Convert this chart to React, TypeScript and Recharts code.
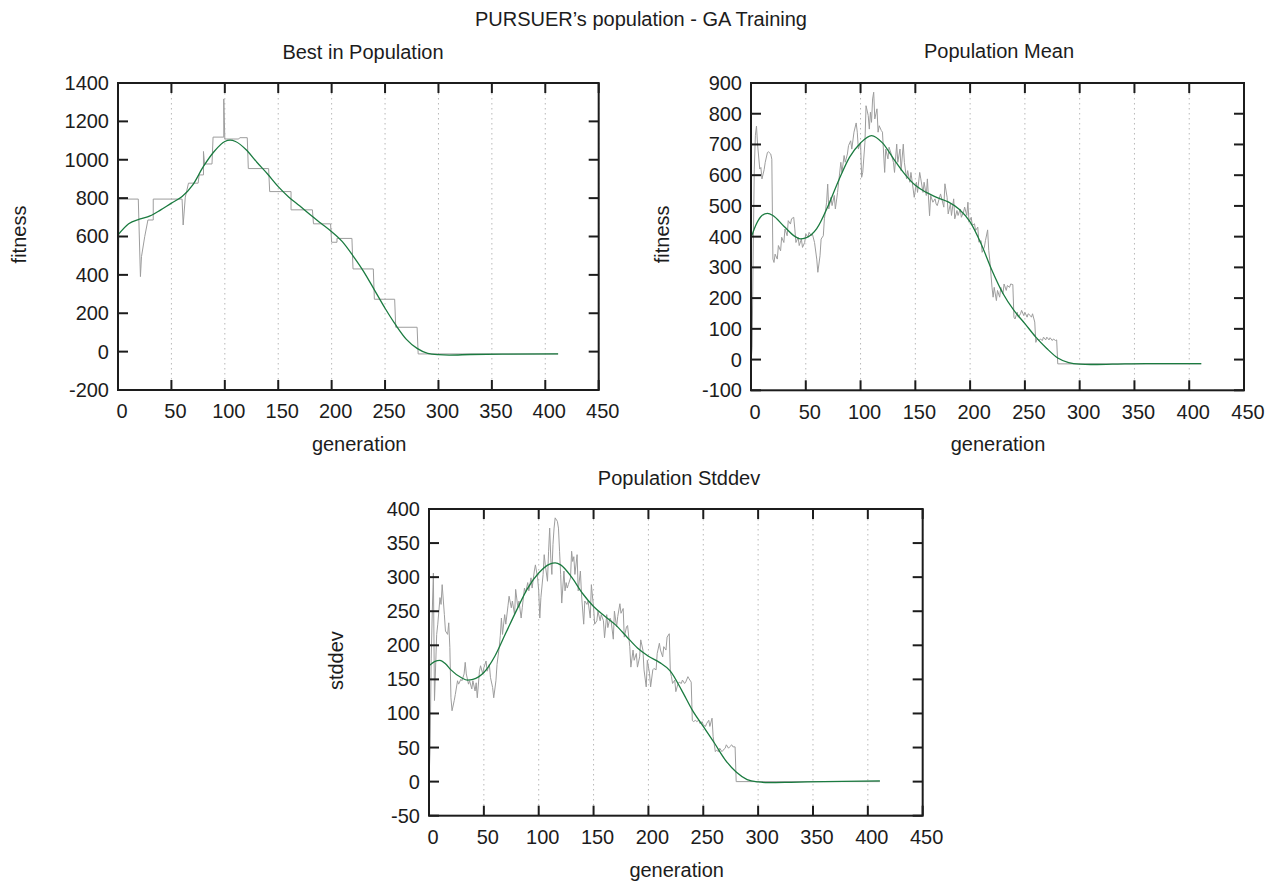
import { LineChart, Line, XAxis, YAxis, CartesianGrid } from 'recharts'

type Pt = [number, number]

// generation axis is shared by all three panels
const genTicks = [0, 50, 100, 150, 200, 250, 300, 350, 400, 450]
const bestTicks = [-200, 0, 200, 400, 600, 800, 1000, 1200, 1400]
const meanTicks = [-100, 0, 100, 200, 300, 400, 500, 600, 700, 800, 900]
const stdTicks = [-50, 0, 50, 100, 150, 200, 250, 300, 350, 400]

// [generation, value]
const bestRaw: Pt[] = [
  [0, 20], [1, 795], [19, 795], [21, 391], [22, 495], [25, 599], [28, 686], [33, 686], [33, 795],
  [60, 795], [61, 660], [63, 805], [66, 878], [75, 878], [76, 921], [80, 921], [80, 1043], [81, 978],
  [88, 978], [89, 1118], [99, 1118], [99, 1317], [100, 1108], [113, 1108], [114, 1115], [121, 1115],
  [122, 954], [141, 954], [142, 834], [162, 834], [162, 739], [182, 739], [183, 666], [199, 666],
  [200, 570], [205, 570], [205, 590], [219, 590], [220, 431], [239, 431], [240, 273], [259, 273],
  [260, 127], [280, 127], [281, -12], [412, -12],
]
const bestFit: Pt[] = [
  [0, 608], [10, 666], [20, 690], [30, 707], [40, 739], [50, 774], [60, 808], [70, 869], [80, 965],
  [90, 1043], [100, 1095], [105, 1102], [110, 1095], [120, 1052], [130, 987], [140, 926], [150, 860],
  [160, 805], [170, 760], [180, 713], [190, 669], [200, 625], [210, 573], [220, 499], [230, 417],
  [240, 322], [250, 226], [260, 139], [270, 64], [280, 17], [290, -9], [300, -16], [310, -18],
  [330, -15], [360, -13], [412, -12],
]

const meanRaw: Pt[] = [
  [0, -10], [1, 40], [2, 350], [3, 620], [4, 730], [5, 760], [6, 700], [8, 620], [9, 625], [10, 588],
  [12, 618], [13, 642], [15, 674], [16, 676], [18, 669], [19, 652], [20, 327], [21, 316], [22, 343],
  [24, 327], [25, 371], [27, 354], [28, 398], [30, 381], [31, 425], [33, 403], [34, 452], [36, 441],
  [37, 458], [39, 463], [40, 425], [41, 381], [43, 398], [44, 371], [46, 392], [47, 365], [49, 381],
  [50, 409], [52, 398], [53, 414], [55, 403], [56, 409], [58, 381], [60, 327], [61, 284], [63, 338],
  [64, 392], [66, 403], [67, 458], [69, 512], [70, 571], [71, 490], [73, 528], [74, 501], [76, 534],
  [77, 490], [79, 544], [80, 577], [82, 642], [83, 609], [85, 664], [86, 642], [88, 669], [89, 696],
  [91, 712], [92, 685], [94, 740], [96, 770], [97, 740], [98, 685], [100, 707], [101, 593], [102, 609],
  [104, 707], [105, 826], [107, 794], [108, 750], [109, 805], [110, 772], [111, 848], [112, 870],
  [113, 783], [115, 816], [116, 740], [117, 761], [119, 745], [120, 740], [122, 609], [123, 685],
  [125, 653], [126, 691], [128, 669], [130, 642], [131, 609], [133, 701], [134, 642], [136, 685],
  [137, 615], [139, 701], [140, 642], [142, 588], [143, 615], [145, 577], [146, 609], [148, 555],
  [149, 528], [151, 577], [152, 544], [154, 609], [155, 588], [157, 544], [158, 577], [160, 534],
  [161, 588], [163, 468], [164, 534], [166, 512], [168, 523], [169, 506], [170, 501], [173, 539],
  [176, 496], [177, 572], [179, 528], [180, 474], [182, 507], [183, 469], [185, 523], [186, 458],
  [188, 485], [189, 469], [191, 490], [192, 463], [194, 480], [195, 496], [197, 469], [198, 512],
  [199, 447], [201, 463], [202, 436], [204, 442], [205, 420], [207, 431], [208, 382], [210, 387],
  [211, 349], [213, 366], [214, 387], [216, 422], [217, 355], [218, 322], [220, 235], [221, 203],
  [222, 235], [224, 192], [225, 225], [227, 203], [228, 235], [230, 214], [231, 246], [233, 225],
  [234, 241], [236, 235], [237, 246], [239, 244], [240, 138], [241, 132], [243, 154], [244, 138],
  [246, 149], [247, 160], [249, 143], [250, 154], [252, 138], [253, 149], [255, 143], [256, 138],
  [257, 149], [259, 122], [260, 56], [261, 67], [263, 62], [264, 67], [266, 62], [267, 73], [269, 64],
  [270, 73], [272, 64], [273, 71], [275, 62], [276, 67], [278, 62], [279, 64], [280, -14], [411, -14],
]
const meanFit: Pt[] = [
  [0, 396], [5, 442], [10, 469], [15, 476], [20, 469], [30, 434], [40, 401], [45, 393], [50, 396],
  [60, 426], [70, 497], [80, 583], [90, 659], [100, 705], [110, 729], [120, 705], [130, 654],
  [140, 605], [150, 567], [160, 544], [170, 527], [180, 513], [190, 489], [200, 448], [210, 377],
  [220, 290], [230, 215], [240, 160], [250, 117], [260, 73], [270, 36], [280, 5], [290, -10],
  [300, -15], [310, -16], [330, -15], [360, -13], [411, -13],
]

const stdRaw: Pt[] = [
  [0, 0], [1, 50], [2, 180], [3, 250], [4, 306], [5, 119], [7, 216], [8, 231], [10, 270], [11, 260],
  [12, 289], [14, 245], [15, 221], [17, 216], [18, 233], [19, 197], [20, 123], [21, 104], [23, 119],
  [24, 128], [26, 148], [27, 143], [29, 150], [30, 148], [32, 158], [33, 175], [34, 158], [36, 143],
  [37, 148], [39, 136], [40, 148], [42, 133], [43, 145], [44, 123], [46, 162], [47, 170], [49, 158],
  [50, 167], [52, 177], [53, 162], [55, 172], [56, 153], [58, 138], [59, 123], [61, 148], [62, 172],
  [64, 197], [65, 214], [66, 240], [67, 216], [69, 245], [70, 231], [72, 258], [73, 272], [75, 255],
  [76, 265], [78, 245], [79, 282], [81, 255], [82, 265], [84, 240], [85, 255], [87, 284], [88, 277],
  [90, 292], [91, 280], [93, 299], [94, 284], [96, 309], [97, 318], [99, 299], [100, 280], [101, 240],
  [102, 270], [104, 304], [105, 333], [106, 318], [108, 294], [109, 338], [110, 372], [111, 328],
  [112, 304], [113, 348], [114, 372], [115, 387], [117, 382], [118, 372], [119, 338], [120, 304],
  [121, 262], [123, 309], [124, 280], [125, 292], [126, 284], [127, 289], [129, 299], [130, 338],
  [131, 323], [132, 330], [133, 304], [135, 333], [136, 280], [138, 309], [139, 275], [141, 231],
  [142, 265], [144, 260], [145, 265], [147, 240], [148, 289], [150, 255], [151, 231], [153, 236],
  [154, 250], [156, 236], [157, 245], [159, 236], [160, 211], [162, 245], [163, 226], [165, 240],
  [166, 236], [168, 209], [169, 250], [171, 227], [172, 242], [174, 261], [175, 247], [177, 254],
  [178, 212], [180, 227], [181, 229], [183, 198], [184, 168], [186, 193], [187, 178], [189, 188],
  [190, 168], [192, 183], [193, 208], [195, 193], [196, 164], [198, 139], [199, 178], [201, 159],
  [202, 139], [204, 164], [205, 166], [207, 164], [208, 188], [210, 203], [211, 193], [213, 183],
  [214, 198], [216, 193], [217, 212], [219, 217], [220, 161], [221, 154], [222, 144], [224, 149],
  [225, 132], [227, 144], [228, 146], [230, 144], [231, 149], [233, 144], [234, 146], [236, 154],
  [237, 151], [239, 146], [240, 90], [241, 88], [243, 90], [244, 88], [246, 90], [247, 85], [249, 88],
  [250, 83], [252, 81], [253, 85], [255, 90], [256, 81], [258, 93], [259, 66], [261, 44], [262, 46],
  [264, 44], [265, 49], [267, 44], [268, 46], [270, 49], [271, 54], [273, 49], [274, 51], [276, 54],
  [277, 51], [279, 51], [280, 0], [411, 0],
]
const stdFit: Pt[] = [
  [0, 170], [5, 176], [10, 178], [15, 173], [20, 164], [30, 152], [35, 149], [40, 150], [50, 160],
  [60, 184], [70, 218], [80, 252], [90, 284], [100, 306], [110, 319], [115, 321], [120, 318],
  [130, 300], [140, 276], [150, 257], [160, 243], [170, 230], [180, 213], [190, 196], [200, 184],
  [210, 175], [220, 162], [230, 135], [240, 105], [250, 81], [260, 57], [270, 32], [280, 14],
  [290, 3], [300, -0.5], [310, -1.5], [330, -1], [360, 0], [411, 1],
]

const FONT = '"Liberation Sans", Arial, Helvetica, sans-serif'
const INK = '#1c1c1c'
const RAW = '#9d9d9d'
const FIT = '#1b7b40'
const FS = 20

const YW = 80
const XH = 40
const PT = 10
const PR = 40

const rows = (pts: Pt[]) => pts.map(([g, v]) => ({ g, v }))

interface PanelProps {
  left: number
  top: number
  w: number
  h: number
  yTicks: number[]
  raw: Pt[]
  fit: Pt[]
}

function Panel({ left, top, w, h, yTicks, raw, fit }: PanelProps) {
  const yMin = yTicks[0]
  const yMax = yTicks[yTicks.length - 1]

  // ticks point inward on all four sides, gnuplot style; the border rides on the first x tick
  const xTick = (props: any) => {
    const { x, y, payload } = props
    return (
      <g>
        {payload.value === 0 && (
          <rect x={x} y={y - h} width={w} height={h} fill="none" stroke={INK} strokeWidth={2} />
        )}
        <line x1={x} x2={x} y1={y} y2={y - 10} stroke={INK} strokeWidth={2} />
        <line x1={x} x2={x} y1={y - h} y2={y - h + 10} stroke={INK} strokeWidth={2} />
        <text x={x + 4} y={y + 28.5} textAnchor="middle" fontSize={FS} fontFamily={FONT} fill={INK}>
          {payload.value}
        </text>
      </g>
    )
  }
  const yTick = (props: any) => {
    const { x, y, payload } = props
    return (
      <g>
        <line x1={x} x2={x + 10} y1={y} y2={y} stroke={INK} strokeWidth={2} />
        <line x1={x + w} x2={x + w - 10} y1={y} y2={y} stroke={INK} strokeWidth={2} />
        <text x={x - 9} y={y + 7} textAnchor="end" fontSize={FS} fontFamily={FONT} fill={INK}>
          {payload.value}
        </text>
      </g>
    )
  }

  return (
    <div style={{ position: 'absolute', left: left - YW, top: top - PT }}>
      <LineChart
        width={YW + w + PR}
        height={PT + h + XH}
        margin={{ top: PT, right: PR, bottom: 0, left: 0 }}
        style={{ overflow: 'visible' }}
      >
        <CartesianGrid horizontal={false} stroke="#b8b8b8" strokeDasharray="1.5 3.5" />
        <XAxis
          type="number"
          dataKey="g"
          domain={[0, 450]}
          ticks={genTicks}
          interval={0}
          height={XH}
          axisLine={false}
          tickLine={false}
          tickSize={0}
          tickMargin={0}
          tick={xTick}
          allowDataOverflow
        />
        <YAxis
          type="number"
          domain={[yMin, yMax]}
          ticks={yTicks}
          interval={0}
          width={YW}
          axisLine={false}
          tickLine={false}
          tickSize={0}
          tickMargin={0}
          tick={yTick}
          allowDataOverflow
        />
        <Line
          data={rows(raw)}
          dataKey="v"
          type="linear"
          stroke={RAW}
          strokeWidth={1}
          dot={false}
          activeDot={false}
          isAnimationActive={false}
        />
        <Line
          data={rows(fit)}
          dataKey="v"
          type="monotone"
          stroke={FIT}
          strokeWidth={1.3}
          dot={false}
          activeDot={false}
          isAnimationActive={false}
        />
      </LineChart>
    </div>
  )
}

const panels = [
  { left: 118.3, top: 83, w: 480.7, h: 307, yTicks: bestTicks, raw: bestRaw, fit: bestFit,
    title: 'Best in Population', titleX: 363, yLabel: 'fitness', yLabelX: 25.5 },
  { left: 751, top: 82.7, w: 493, h: 307.3, yTicks: meanTicks, raw: meanRaw, fit: meanFit,
    title: 'Population Mean', titleX: 999, yLabel: 'fitness', yLabelX: 669 },
  { left: 429.3, top: 509.3, w: 493.7, h: 306.7, yTicks: stdTicks, raw: stdRaw, fit: stdFit,
    title: 'Population Stddev', titleX: 679, yLabel: 'stddev', yLabelX: 343.5 },
]

export default function App() {
  const txt = { fontSize: FS, fontFamily: FONT, fill: INK }
  return (
    <div style={{ position: 'absolute', left: 0, top: 0, width: 1283, height: 881, background: '#fff', overflow: 'hidden' }}>
      {panels.map((p) => (
        <Panel key={p.title} left={p.left} top={p.top} w={p.w} h={p.h} yTicks={p.yTicks} raw={p.raw} fit={p.fit} />
      ))}
      <svg width={1283} height={881} style={{ position: 'absolute', left: 0, top: 0, pointerEvents: 'none' }}>
        <text x={641} y={26} textAnchor="middle" {...txt}>PURSUER’s population - GA Training</text>
        {panels.map((p) => {
          const cx = p.left + p.w / 2
          const cy = p.top + p.h / 2 - 2
          return (
            <g key={p.title}>
              <text x={p.titleX} y={p.top - 24.5} textAnchor="middle" {...txt}>{p.title}</text>
              <text x={cx + 0.5} y={p.top + p.h + 61} textAnchor="middle" {...txt}>generation</text>
              <text
                x={p.yLabelX}
                y={cy}
                textAnchor="middle"
                transform={`rotate(-90 ${p.yLabelX} ${cy})`}
                {...txt}
              >
                {p.yLabel}
              </text>
            </g>
          )
        })}
      </svg>
    </div>
  )
}
